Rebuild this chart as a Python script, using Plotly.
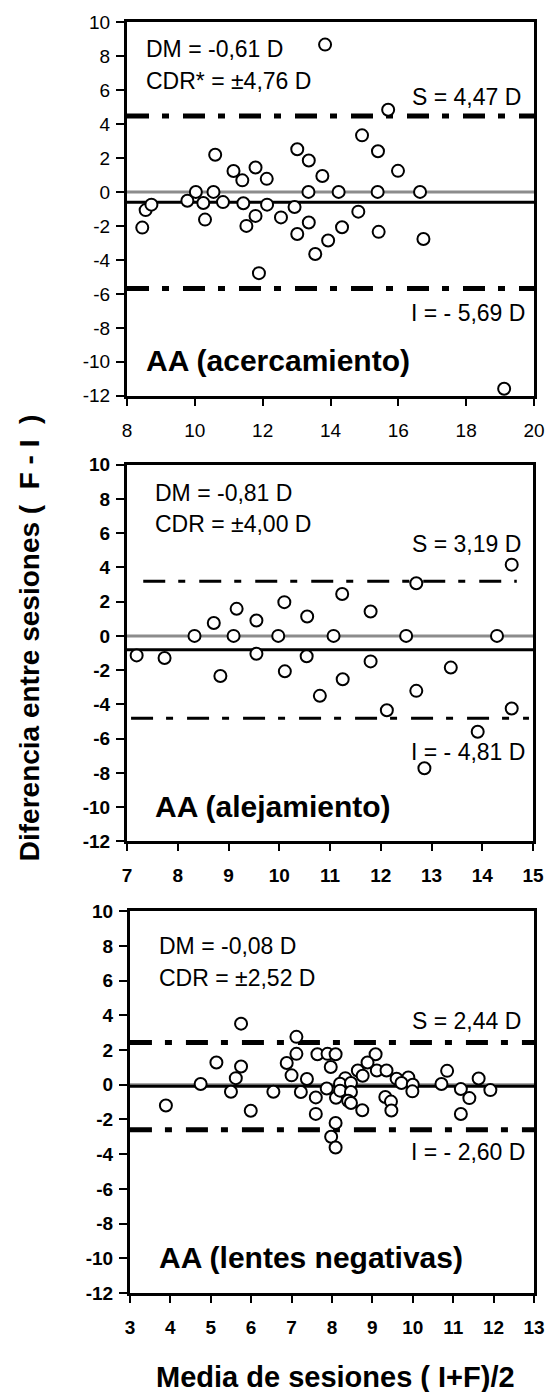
import plotly.graph_objects as go

# ---------------- data ----------------
p1_x = [8.45, 8.55, 8.72, 9.78, 10.03, 10.25, 10.30, 10.55, 10.60, 10.83, 11.14, 11.40, 11.43, 11.52,
        11.79, 11.79, 11.89, 12.12, 12.13, 12.54, 12.94, 13.02, 13.02, 13.35, 13.36, 13.36, 13.55, 13.76,
        13.84, 13.93, 14.24, 14.34, 14.82, 14.93, 15.39, 15.40, 15.42, 15.70, 15.99, 16.64, 16.74, 19.12]
p1_y = [-2.1, -1.07, -0.75, -0.52, 0, -0.65, -1.63, 0, 2.19, -0.6, 1.23, 0.68, -0.67, -2.0,
        1.44, -1.41, -4.78, 0.77, -0.75, -1.5, -0.89, 2.51, -2.48, 0, 1.85, -1.8, -3.65, 0.94,
        8.67, -2.86, 0, -2.08, -1.16, 3.33, 0, 2.39, -2.35, 4.84, 1.24, 0, -2.77, -11.58]

p2_x = [7.19, 7.74, 8.33, 8.71, 8.84, 9.10, 9.16, 9.55, 9.55, 9.98, 10.10, 10.11, 10.54, 10.55, 10.80,
        11.07, 11.24, 11.25, 11.80, 11.80, 12.12, 12.50, 12.70, 12.70, 12.86, 13.38, 13.91, 14.29, 14.58, 14.58]
p2_y = [-1.14, -1.29, 0, 0.75, -2.34, 0, 1.58, 0.90, -1.04, 0, 1.97, -2.07, -1.19, 1.13, -3.5,
        0, 2.45, -2.53, 1.42, -1.49, -4.34, 0, 3.07, -3.21, -7.73, -1.85, -5.6, 0, 4.16, -4.24]

p3_x = [5.75, 7.12, 7.12, 5.14, 5.75, 5.62, 6.88, 7.00, 7.38, 7.64, 7.89, 8.09, 7.97, 9.08, 8.88,
        8.64, 8.76, 9.11, 9.35, 8.33, 9.60, 9.89, 10.85, 11.63,
        4.75, 9.72, 10.00, 10.71, 8.20, 8.47,
        6.55, 5.50, 7.23, 7.87, 8.10, 7.60, 8.20, 8.47, 8.40, 8.47, 8.75, 9.32, 9.46, 9.47, 9.99,
        11.19, 11.92, 11.40, 3.89, 5.99, 7.60, 8.09, 7.98, 8.09, 11.19]
p3_y = [3.52, 2.76, 1.78, 1.28, 1.05, 0.38, 1.25, 0.54, 0.33, 1.76, 1.78, 1.76, 1.02, 1.76, 1.28,
        0.82, 0.52, 0.82, 0.82, 0.38, 0.35, 0.42, 0.80, 0.36,
        0.04, 0.10, 0.0, 0.04, 0.06, 0.10,
        -0.40, -0.40, -0.42, -0.22, -0.75, -0.73, -0.34, -0.42, -0.92, -1.05, -1.47, -0.71, -0.97, -1.48, -0.38,
        -0.25, -0.31, -0.77, -1.2, -1.5, -1.68, -2.2, -3.0, -3.62, -1.69]

dm_vals = [-0.61, -0.81, -0.08]
s_vals = [4.47, 3.19, 2.44]
i_vals = [-5.69, -4.81, -2.60]
dm_text = ["DM = -0,61 D", "DM = -0,81 D", "DM = -0,08 D"]
cdr_text = ["CDR* = ±4,76 D", "CDR = ±4,00 D", "CDR = ±2,52 D"]
s_text = ["S = 4,47 D", "S = 3,19 D", "S = 2,44 D"]
i_text = ["I = - 5,69 D", "I = - 4,81 D", "I = - 2,60 D"]
panel_titles = ["AA (acercamiento)", "AA (alejamiento)", "AA (lentes negativas)"]
x_tickvals = [[8, 10, 12, 14, 16, 18, 20],
              [7, 8, 9, 10, 11, 12, 13, 14, 15],
              [3, 4, 5, 6, 7, 8, 9, 10, 11, 12, 13]]
x_ticktext = [[str(v) for v in tv] for tv in x_tickvals]
y_tickvals = [-12, -10, -8, -6, -4, -2, 0, 2, 4, 6, 8, 10]
y_ticktext = ["-12", "-10", "-8", "-6", "-4", "-2", "0", "2", "4", "6", "8", "10"]
x_title = "Media de sesiones ( I+F)/2"
y_title = "Diferencia entre sesiones (  F - I  )"

# ---------------- layout geometry ----------------
W, H = 557, 1392
ML, MR, MT, MB = 127, 14, 18, 99
PW, PH = W - ML - MR, H - MT - MB
FONT = "Liberation Sans, Arial, sans-serif"

boxes = [(127, 18, 543, 393), (127, 462, 542, 840), (130, 910, 543, 1293)]

def pp(x, y):
    return (x - ML) / PW, (H - MB - y) / PH

fig = go.Figure()
xs = [p1_x, p2_x, p3_x]
ys = [p1_y, p2_y, p3_y]

for k in range(3):
    l, t, r, b = boxes[k]
    xd = [max(0, (l - ML) / PW), min(1, (r - ML) / PW)]
    yd = [max(0, (H - MB - b) / PH), min(1, (H - MB - t) / PH)]
    sfx = "" if k == 0 else str(k + 1)
    xa = "x" + sfx
    ya = "y" + sfx
    fig.add_trace(go.Scatter(
        x=xs[k], y=ys[k], mode="markers", xaxis=xa, yaxis=ya, showlegend=False,
        marker=dict(symbol="circle", size=12, color="white",
                    line=dict(color="black", width=2)),
        cliponaxis=False))
    wt = "bold" if k > 0 else "normal"
    xr = [x_tickvals[k][0], x_tickvals[k][-1]]
    fig.layout["xaxis" + sfx] = dict(
        domain=xd, range=xr, tickmode="array", tickvals=x_tickvals[k], ticktext=x_ticktext[k],
        showline=True, mirror=True, linecolor="black", linewidth=3,
        ticks="outside", ticklen=7, tickwidth=2, tickcolor="black",
        showgrid=False, zeroline=False, anchor=ya, ticklabelstandoff=8,
        tickfont=dict(family=FONT, size=19, color="black", weight=wt))
    fig.layout["yaxis" + sfx] = dict(
        domain=yd, range=[y_tickvals[0], y_tickvals[-1]], tickmode="array",
        tickvals=y_tickvals, ticktext=y_ticktext,
        showline=True, mirror=True, linecolor="black", linewidth=3,
        ticks="outside", ticklen=8, tickwidth=2, tickcolor="black",
        showgrid=False, zeroline=False, anchor=xa, ticklabelstandoff=2,
        tickfont=dict(family=FONT, size=19, color="black", weight=wt))

    xdom = xa + " domain"
    fig.add_shape(type="line", xref=xdom, yref=ya, x0=0, x1=1, y0=0, y1=0,
                  line=dict(color="#8c8c8c", width=3), layer="below")
    fig.add_shape(type="line", xref=xdom, yref=ya, x0=0, x1=1, y0=dm_vals[k], y1=dm_vals[k],
                  line=dict(color="black", width=3), layer="below")
    lw = 3 if k == 1 else 5
    sx = (0.04, 0.96) if k == 1 else (0, 1)
    ix = (0.01, 0.99) if k == 1 else (0, 1)
    fig.add_shape(type="line", xref=xdom, yref=ya, x0=sx[0], x1=sx[1], y0=s_vals[k], y1=s_vals[k],
                  line=dict(color="black", width=lw, dash="22px,13px,7px,14px"), layer="below")
    fig.add_shape(type="line", xref=xdom, yref=ya, x0=ix[0], x1=ix[1], y0=i_vals[k], y1=i_vals[k],
                  line=dict(color="black", width=lw, dash="22px,13px,7px,14px"), layer="below")

# ---------------- annotations ----------------
ann_pos = [
    dict(dm=(145, 45), cdr=(145, 77), s=(531, 93), i=(535, 310), t=(145, 358)),
    dict(dm=(155, 490), cdr=(155, 522), s=(531, 542), i=(535, 750), t=(155, 805)),
    dict(dm=(159, 945), cdr=(159, 977), s=(531, 1020), i=(535, 1152), t=(159, 1257)),
]

def add_text(pos, text, anchor, size, bold=False, angle=0):
    x, y = pp(*pos)
    fig.add_annotation(x=x, y=y, xref="paper", yref="paper", text=("<b>%s</b>" % text) if bold else text,
                       showarrow=False, xanchor=anchor, yanchor="middle", textangle=angle,
                       font=dict(family=FONT, size=size, color="black"), borderpad=0)

for k in range(3):
    a = ann_pos[k]
    add_text(a["dm"], dm_text[k], "left", 23)
    add_text(a["cdr"], cdr_text[k], "left", 23)
    add_text(a["s"], s_text[k], "right", 23)
    add_text(a["i"], i_text[k], "right", 23)
    add_text(a["t"], panel_titles[k], "left", 30, bold=True)

add_text((340, 1377), x_title, "center", 29, bold=True)
add_text((27, 636), y_title, "center", 28, bold=True, angle=-90)

fig.update_layout(width=W, height=H, margin=dict(l=ML, r=MR, t=MT, b=MB),
                  paper_bgcolor="white", plot_bgcolor="white", showlegend=False)

fig.write_html("out.html")
